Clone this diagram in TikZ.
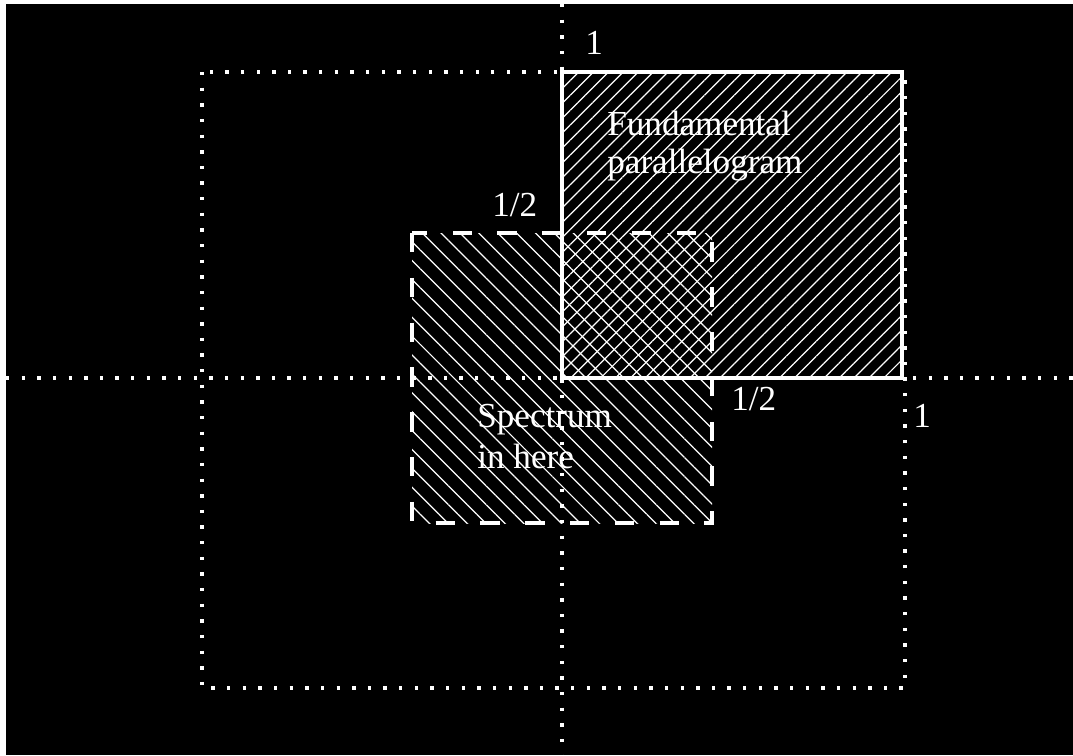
\documentclass[tikz,border=0pt]{standalone}
\usepackage{fontspec}
\setmainfont{Liberation Serif}
\usetikzlibrary{patterns.meta}

\begin{document}
\begin{tikzpicture}[x=0.02cm,y=-0.02cm,
  axisline/.style={white,line width=1.9pt,dash pattern=on 1.9pt off 7pt},
  dashbox/.style={white,line width=1.8pt,dash pattern=on 11pt off 14.5pt},
  fundbox/.style={white,line width=1.8pt},
  fundhatch/.style={pattern={Lines[angle=45,distance=6pt,line width=0.7pt]},pattern color=white},
  spechatch/.style={pattern={Lines[angle=-45,distance=7.6pt,line width=0.7pt]},pattern color=white},
  lbl/.style={text=white,font=\fontsize{20}{22}\selectfont,inner sep=0pt,anchor=base west}]
\fill[white] (0,0) rectangle (1073,755);
\fill[black] (6,4) rectangle (1073,755);
\useasboundingbox (0,0) rectangle (1073,755);
% axes and outer period box
\draw[axisline] (562,4) -- (562,755);
\draw[axisline] (6,378) -- (1073,378);
\draw[axisline] (202,72) rectangle (905,688);
% hatched regions
\fill[spechatch] (412,233) rectangle (712,523);
\fill[fundhatch] (562,72) rectangle (902,378);
\draw[dashbox] (412,233) rectangle (712,523);
\draw[fundbox] (562,72) rectangle (902,378);
% labels
\node[lbl] (ytop) at (585,54) {1};
\node[lbl] (yhalf) at (492,216) {1/2};
\node[lbl] (xhalf) at (731,410) {1/2};
\node[lbl] (xone) at (913,427) {1};
\node[lbl] (funda) at (607,135) {Fundamental};
\node[lbl] (fundb) at (607,173) {parallelogram};
\node[lbl] (speca) at (477,427) {Spectrum};
\node[lbl] (specb) at (477,468) {in here};
\end{tikzpicture}
\end{document}
